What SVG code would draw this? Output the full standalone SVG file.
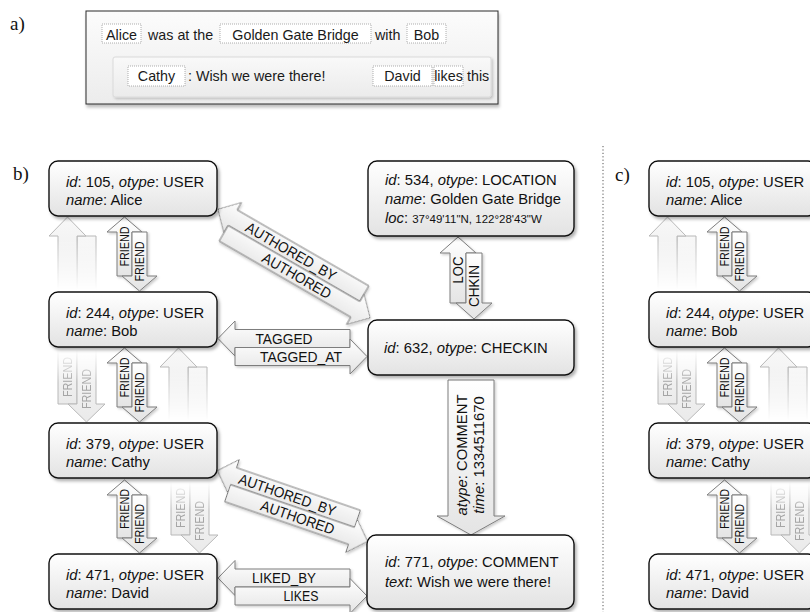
<svg xmlns="http://www.w3.org/2000/svg" width="810" height="612" viewBox="0 0 810 612">
<defs>
<style>
.serif{font-family:'Liberation Serif','Times New Roman',serif;font-size:19px;fill:#111}
.nb{fill:url(#gNode);stroke:#111;stroke-width:1.4;filter:url(#shN)}
.nt{font-family:'Liberation Sans',Arial,sans-serif;font-size:14.8px;fill:#111}
.i{font-style:italic}
.sm{font-size:11.5px}
.ar{fill:url(#gArr);stroke:#7d7d7d;stroke-width:1}
.sh{filter:url(#shA)}
.el{font-family:'Liberation Sans',Arial,sans-serif;font-size:14.8px;fill:#111}
.elm{font-family:'Liberation Sans',Arial,sans-serif;font-size:14.8px;fill:#111;text-anchor:middle}
.fr{font-family:'Liberation Sans',Arial,sans-serif;font-size:13px;fill:#111}
.fa{fill:url(#gFade);stroke:#b8b8b8;stroke-width:1}
.ft{font-family:'Liberation Sans',Arial,sans-serif;font-size:13px;fill:#a5a5a5}
.at{font-family:'Liberation Sans',Arial,sans-serif;font-size:14.3px;fill:#1a1a1a}
.atm{font-family:'Liberation Sans',Arial,sans-serif;font-size:14.3px;fill:#1a1a1a;text-anchor:middle}
.wb{fill:#fff;stroke:#9a9a9a;stroke-width:0.8;stroke-dasharray:1 1}
</style>
<linearGradient id="gNode" x1="0" y1="0" x2="0" y2="1"><stop offset="0" stop-color="#ffffff"/><stop offset="1" stop-color="#e3e3e3"/></linearGradient>
<linearGradient id="gArr" x1="0" y1="0" x2="0" y2="1"><stop offset="0" stop-color="#ffffff"/><stop offset="1" stop-color="#e4e4e4"/></linearGradient>
<linearGradient id="gFade" x1="0" y1="0" x2="0" y2="1"><stop offset="0" stop-color="#f8f8f8"/><stop offset="1" stop-color="#eaeaea"/></linearGradient>
<linearGradient id="gOuter" x1="0" y1="0" x2="0" y2="1"><stop offset="0" stop-color="#fcfcfc"/><stop offset="1" stop-color="#ececec"/></linearGradient>
<linearGradient id="gInner" x1="0" y1="0" x2="0" y2="1"><stop offset="0" stop-color="#f9f9f9"/><stop offset="1" stop-color="#ebebeb"/></linearGradient>
<filter id="shN" x="-10%" y="-15%" width="125%" height="140%"><feDropShadow dx="2" dy="2.5" stdDeviation="1.6" flood-color="#000" flood-opacity="0.3"/></filter>
<filter id="shA" x="-15%" y="-15%" width="135%" height="135%"><feDropShadow dx="1.5" dy="1.5" stdDeviation="1" flood-color="#000" flood-opacity="0.2"/></filter>
<filter id="shO" x="-5%" y="-10%" width="110%" height="130%"><feDropShadow dx="1" dy="3" stdDeviation="1.5" flood-color="#000" flood-opacity="0.25"/></filter>
<linearGradient id="gm1" gradientUnits="userSpaceOnUse" x1="0" y1="240" x2="0" y2="290"><stop offset="0" stop-color="#fff"/><stop offset="1" stop-color="#000"/></linearGradient>
<linearGradient id="gm3" gradientUnits="userSpaceOnUse" x1="0" y1="371" x2="0" y2="421"><stop offset="0" stop-color="#fff"/><stop offset="1" stop-color="#000"/></linearGradient>
<linearGradient id="gm2" gradientUnits="userSpaceOnUse" x1="0" y1="350" x2="0" y2="382"><stop offset="0" stop-color="#000"/><stop offset="1" stop-color="#fff"/></linearGradient>
<linearGradient id="gm4" gradientUnits="userSpaceOnUse" x1="0" y1="482" x2="0" y2="510"><stop offset="0" stop-color="#000"/><stop offset="1" stop-color="#fff"/></linearGradient>
<mask id="mF1" maskUnits="userSpaceOnUse" x="-1000" y="0" width="3000" height="612"><rect x="-1000" y="0" width="3000" height="612" fill="url(#gm1)"/></mask>
<mask id="mF3" maskUnits="userSpaceOnUse" x="-1000" y="0" width="3000" height="612"><rect x="-1000" y="0" width="3000" height="612" fill="url(#gm3)"/></mask>
<mask id="mF2" maskUnits="userSpaceOnUse" x="-1000" y="0" width="3000" height="612"><rect x="-1000" y="0" width="3000" height="612" fill="url(#gm2)"/></mask>
<mask id="mF4" maskUnits="userSpaceOnUse" x="-1000" y="0" width="3000" height="612"><rect x="-1000" y="0" width="3000" height="612" fill="url(#gm4)"/></mask>
</defs>
<rect x="0" y="0" width="810" height="612" fill="#ffffff"/>

<!-- panel a -->
<text class="serif" x="10" y="30">a)</text>
<g id="panel-a">
<rect x="86" y="11" width="412" height="93" fill="url(#gOuter)" stroke="#2b2b2b" stroke-width="1" filter="url(#shO)"/>
<rect x="113" y="57" width="378" height="40" rx="2" fill="url(#gInner)" stroke="#dadada" stroke-width="1" filter="url(#shA)"/>
<rect class="wb" x="102" y="24" width="39" height="19"/>
<rect class="wb" x="220" y="24" width="151" height="19"/>
<rect class="wb" x="407" y="24" width="39" height="19"/>
<rect class="wb" x="128" y="66" width="57" height="20"/>
<rect class="wb" x="373" y="66" width="59" height="20"/>
<rect class="wb" x="434" y="66" width="29" height="20"/>
<text class="atm" x="121.5" y="39.8">Alice</text>
<text class="at" x="148" y="39.8">was at the</text>
<text class="atm" x="295.5" y="39.8">Golden Gate Bridge</text>
<text class="at" x="375" y="39.8">with</text>
<text class="atm" x="426.5" y="39.8">Bob</text>
<text class="atm" x="156.5" y="81.3">Cathy</text>
<text class="at" x="188" y="81.3">: Wish we were there!</text>
<text class="atm" x="402.5" y="81.3">David</text>
<text class="atm" x="448.5" y="81.3">likes</text>
<text class="at" x="467" y="81.3">this</text>
</g>

<!-- panel b -->
<text class="serif" x="13" y="180">b)</text>
<g id="edges-b">
<g id="fade-ab-left" mask="url(#mF1)">
<polygon class="fa" points="77,236 96,236 96,292 77,292"/>
<polygon class="fa" points="67.5,217 86,236 77,236 77,292 58,292 58,236 49,236"/>
</g>
<g id="fade-bc-right" mask="url(#mF3)">
<polygon class="fa" points="188,367 207,367 207,423 188,423"/>
<polygon class="fa" points="178.5,348 197,367 188,367 188,423 169,423 169,367 160,367"/>
</g>
<g id="fade-bc-left" mask="url(#mF2)">
<polygon class="fa" points="58,347 77,347 77,404 58,404"/>
<polygon class="fa" points="77,347 96,347 96,404 105,404 86.5,422 68,404 77,404"/>
<text class="ft" transform="translate(72.2 377) rotate(-90)" x="-20" y="0" textLength="40" lengthAdjust="spacingAndGlyphs">FRIEND</text>
<text class="ft" transform="translate(91.2 389) rotate(-90)" x="-20" y="0" textLength="40" lengthAdjust="spacingAndGlyphs">FRIEND</text>
</g>
<g id="fade-cd-right" mask="url(#mF4)">
<polygon class="fa" points="171,480 190,480 190,535 171,535"/>
<polygon class="fa" points="190,480 209,480 209,535 218,535 199.5,553 181,535 190,535"/>
<text class="ft" transform="translate(185.2 508) rotate(-90)" x="-20" y="0" textLength="40" lengthAdjust="spacingAndGlyphs">FRIEND</text>
<text class="ft" transform="translate(204.2 521) rotate(-90)" x="-20" y="0" textLength="40" lengthAdjust="spacingAndGlyphs">FRIEND</text>
</g>

<g id="e-alice-bob">
<g class="sh">
<polygon class="ar" points="124.5,217 142,232 132,232 132,276 117,276 117,232 107,232"/>
<polygon class="ar" points="132,232 147,232 147,276 157,276 139.5,291 122,276 132,276"/>
</g>
<text class="fr" transform="translate(129.2 246.5) rotate(-90)" x="-20" y="0" textLength="40" lengthAdjust="spacingAndGlyphs">FRIEND</text>
<text class="fr" transform="translate(144.2 261.5) rotate(-90)" x="-20" y="0" textLength="40" lengthAdjust="spacingAndGlyphs">FRIEND</text>
</g>
<g id="e-bob-cathy">
<g class="sh">
<polygon class="ar" points="124.5,348 142,363 132,363 132,407 117,407 117,363 107,363"/>
<polygon class="ar" points="132,363 147,363 147,407 157,407 139.5,422 122,407 132,407"/>
</g>
<text class="fr" transform="translate(129.2 377.5) rotate(-90)" x="-20" y="0" textLength="40" lengthAdjust="spacingAndGlyphs">FRIEND</text>
<text class="fr" transform="translate(144.2 392.5) rotate(-90)" x="-20" y="0" textLength="40" lengthAdjust="spacingAndGlyphs">FRIEND</text>
</g>
<g id="e-cathy-david">
<g class="sh">
<polygon class="ar" points="124.5,480 142,495 132,495 132,538 117,538 117,495 107,495"/>
<polygon class="ar" points="132,495 147,495 147,538 157,538 139.5,553 122,538 132,538"/>
</g>
<text class="fr" transform="translate(129.2 509) rotate(-90)" x="-20" y="0" textLength="40" lengthAdjust="spacingAndGlyphs">FRIEND</text>
<text class="fr" transform="translate(144.2 524) rotate(-90)" x="-20" y="0" textLength="40" lengthAdjust="spacingAndGlyphs">FRIEND</text>
</g>

<g id="e-alice-checkin" transform="translate(294 263.5) rotate(30)">
<g class="sh">
<polygon class="ar" points="-93,-9 -76,-26.5 -76,-18 76,-18 76,0 -76,0 -76,8.5"/>
<polygon class="ar" points="93,9 76,26.5 76,18 -76,18 -76,0 76,0 76,-8.5"/>
</g>
<text class="el" x="-59.5" y="-3.7" textLength="102" lengthAdjust="spacingAndGlyphs">AUTHORED_BY</text>
<text class="el" x="-30" y="14.3" textLength="77" lengthAdjust="spacingAndGlyphs">AUTHORED</text>
</g>

<g id="e-bob-checkin">
<g class="sh">
<polygon class="ar" points="218,338.5 235,321 235,329.5 350,329.5 350,347.5 235,347.5 235,356"/>
<polygon class="ar" points="367,356.5 350,374 350,365.5 235,365.5 235,347.5 350,347.5 350,339"/>
</g>
<text class="el" x="255.5" y="343.8" textLength="57" lengthAdjust="spacingAndGlyphs">TAGGED</text>
<text class="el" x="260" y="361.8" textLength="82" lengthAdjust="spacingAndGlyphs">TAGGED_AT</text>
</g>

<g id="e-cathy-comment" transform="translate(292.5 506) rotate(19)">
<g class="sh">
<polygon class="ar" points="-82.5,-9 -65.5,-26.5 -65.5,-18 65.5,-18 65.5,0 -65.5,0 -65.5,8.5"/>
<polygon class="ar" points="82.5,9 65.5,26.5 65.5,18 -65.5,18 -65.5,0 65.5,0 65.5,-8.5"/>
</g>
<text class="el" x="-59.5" y="-3.7" textLength="102" lengthAdjust="spacingAndGlyphs">AUTHORED_BY</text>
<text class="el" x="-30" y="14.3" textLength="77" lengthAdjust="spacingAndGlyphs">AUTHORED</text>
</g>

<g id="e-david-comment">
<g class="sh">
<polygon class="ar" points="218,578 235,560.5 235,569 350,569 350,587 235,587 235,595.5"/>
<polygon class="ar" points="367,596 350,613.5 350,605 235,605 235,587 350,587 350,578.5"/>
</g>
<text class="el" x="252" y="583.3" textLength="64" lengthAdjust="spacingAndGlyphs">LIKED_BY</text>
<text class="el" x="283.5" y="601.3" textLength="35" lengthAdjust="spacingAndGlyphs">LIKES</text>
</g>

<g id="e-location-checkin">
<g class="sh">
<polygon class="ar" points="458,237 476,253 466,253 466,303 450,303 450,253 440,253"/>
<polygon class="ar" points="466,253 482,253 482,303 492,303 474,319 456,303 466,303"/>
</g>
<text class="el" transform="translate(463.3 270) rotate(-90)" x="-13.5" y="0" textLength="27" lengthAdjust="spacingAndGlyphs">LOC</text>
<text class="el" transform="translate(479.3 286) rotate(-90)" x="-21" y="0" textLength="42" lengthAdjust="spacingAndGlyphs">CHKIN</text>
</g>

<g id="e-checkin-comment">
<g class="sh">
<polygon class="ar" points="448,380 494,380 494,516 505,516 471,535 437,516 448,516"/>
</g>
<text class="elm" transform="translate(467 455) rotate(-90)"><tspan class="i">atype</tspan>: COMMENT</text>
<text class="elm" transform="translate(484 455) rotate(-90)"><tspan class="i">time</tspan>: 1334511670</text>
</g>
</g>

<g id="b-alice"><rect class="nb" x="49" y="161" width="168" height="55" rx="9"/>
<text class="nt" x="66" y="186.5"><tspan class="i">id</tspan>: 105, <tspan class="i">otype</tspan>: USER</text>
<text class="nt" x="66" y="204.5"><tspan class="i">name</tspan>: Alice</text></g>
<g id="b-bob"><rect class="nb" x="49" y="292" width="168" height="55" rx="9"/>
<text class="nt" x="66" y="317.5"><tspan class="i">id</tspan>: 244, <tspan class="i">otype</tspan>: USER</text>
<text class="nt" x="66" y="335.5"><tspan class="i">name</tspan>: Bob</text></g>
<g id="b-cathy"><rect class="nb" x="49" y="423" width="168" height="55" rx="9"/>
<text class="nt" x="66" y="448.5"><tspan class="i">id</tspan>: 379, <tspan class="i">otype</tspan>: USER</text>
<text class="nt" x="66" y="466.5"><tspan class="i">name</tspan>: Cathy</text></g>
<g id="b-david"><rect class="nb" x="49" y="554" width="168" height="55" rx="9"/>
<text class="nt" x="66" y="579.5"><tspan class="i">id</tspan>: 471, <tspan class="i">otype</tspan>: USER</text>
<text class="nt" x="66" y="597.5"><tspan class="i">name</tspan>: David</text></g>
<g id="b-location"><rect class="nb" x="368" y="161" width="206" height="75" rx="9"/>
<text class="nt" x="385" y="185"><tspan class="i">id</tspan>: 534, <tspan class="i">otype</tspan>: LOCATION</text>
<text class="nt" x="385" y="204"><tspan class="i">name</tspan>: Golden Gate Bridge</text>
<text class="nt" x="385" y="222.5"><tspan class="i">loc</tspan>: <tspan class="sm">37°49'11"N, 122°28'43"W</tspan></text></g>
<g id="b-checkin"><rect class="nb" x="368" y="320" width="206" height="55" rx="9"/>
<text class="nt" x="384" y="353"><tspan class="i">id</tspan>: 632, <tspan class="i">otype</tspan>: CHECKIN</text></g>
<g id="b-comment"><rect class="nb" x="367" y="535" width="207" height="74" rx="9"/>
<text class="nt" x="385" y="567"><tspan class="i">id</tspan>: 771, <tspan class="i">otype</tspan>: COMMENT</text>
<text class="nt" x="385" y="587"><tspan class="i">text</tspan>: Wish we were there!</text></g>

<!-- separator -->
<line x1="603" y1="146" x2="603" y2="612" stroke="#555" stroke-width="1" stroke-dasharray="1.2 2.2"/>

<!-- panel c -->
<text class="serif" x="615" y="181">c)</text>
<g id="panel-c" transform="translate(600 0)">
<g id="edges-c">
<g id="c-fade-ab-left" mask="url(#mF1)">
<polygon class="fa" points="77,236 96,236 96,292 77,292"/>
<polygon class="fa" points="67.5,217 86,236 77,236 77,292 58,292 58,236 49,236"/>
</g>
<g id="c-fade-bc-right" mask="url(#mF3)">
<polygon class="fa" points="188,367 207,367 207,423 188,423"/>
<polygon class="fa" points="178.5,348 197,367 188,367 188,423 169,423 169,367 160,367"/>
</g>
<g id="c-fade-bc-left" mask="url(#mF2)">
<polygon class="fa" points="58,347 77,347 77,404 58,404"/>
<polygon class="fa" points="77,347 96,347 96,404 105,404 86.5,422 68,404 77,404"/>
<text class="ft" transform="translate(72.2 377) rotate(-90)" x="-20" y="0" textLength="40" lengthAdjust="spacingAndGlyphs">FRIEND</text>
<text class="ft" transform="translate(91.2 389) rotate(-90)" x="-20" y="0" textLength="40" lengthAdjust="spacingAndGlyphs">FRIEND</text>
</g>
<g id="c-fade-cd-right" mask="url(#mF4)">
<polygon class="fa" points="171,480 190,480 190,535 171,535"/>
<polygon class="fa" points="190,480 209,480 209,535 218,535 199.5,553 181,535 190,535"/>
<text class="ft" transform="translate(185.2 508) rotate(-90)" x="-20" y="0" textLength="40" lengthAdjust="spacingAndGlyphs">FRIEND</text>
<text class="ft" transform="translate(204.2 521) rotate(-90)" x="-20" y="0" textLength="40" lengthAdjust="spacingAndGlyphs">FRIEND</text>
</g>
<g id="c-e-alice-bob">
<g class="sh">
<polygon class="ar" points="124.5,217 142,232 132,232 132,276 117,276 117,232 107,232"/>
<polygon class="ar" points="132,232 147,232 147,276 157,276 139.5,291 122,276 132,276"/>
</g>
<text class="fr" transform="translate(129.2 246.5) rotate(-90)" x="-20" y="0" textLength="40" lengthAdjust="spacingAndGlyphs">FRIEND</text>
<text class="fr" transform="translate(144.2 261.5) rotate(-90)" x="-20" y="0" textLength="40" lengthAdjust="spacingAndGlyphs">FRIEND</text>
</g>
<g id="c-e-bob-cathy">
<g class="sh">
<polygon class="ar" points="124.5,348 142,363 132,363 132,407 117,407 117,363 107,363"/>
<polygon class="ar" points="132,363 147,363 147,407 157,407 139.5,422 122,407 132,407"/>
</g>
<text class="fr" transform="translate(129.2 377.5) rotate(-90)" x="-20" y="0" textLength="40" lengthAdjust="spacingAndGlyphs">FRIEND</text>
<text class="fr" transform="translate(144.2 392.5) rotate(-90)" x="-20" y="0" textLength="40" lengthAdjust="spacingAndGlyphs">FRIEND</text>
</g>
<g id="c-e-cathy-david">
<g class="sh">
<polygon class="ar" points="124.5,480 142,495 132,495 132,538 117,538 117,495 107,495"/>
<polygon class="ar" points="132,495 147,495 147,538 157,538 139.5,553 122,538 132,538"/>
</g>
<text class="fr" transform="translate(129.2 509) rotate(-90)" x="-20" y="0" textLength="40" lengthAdjust="spacingAndGlyphs">FRIEND</text>
<text class="fr" transform="translate(144.2 524) rotate(-90)" x="-20" y="0" textLength="40" lengthAdjust="spacingAndGlyphs">FRIEND</text>
</g>
</g>
<g id="c-alice"><rect class="nb" x="49" y="161" width="168" height="55" rx="9"/>
<text class="nt" x="66" y="186.5"><tspan class="i">id</tspan>: 105, <tspan class="i">otype</tspan>: USER</text>
<text class="nt" x="66" y="204.5"><tspan class="i">name</tspan>: Alice</text></g>
<g id="c-bob"><rect class="nb" x="49" y="292" width="168" height="55" rx="9"/>
<text class="nt" x="66" y="317.5"><tspan class="i">id</tspan>: 244, <tspan class="i">otype</tspan>: USER</text>
<text class="nt" x="66" y="335.5"><tspan class="i">name</tspan>: Bob</text></g>
<g id="c-cathy"><rect class="nb" x="49" y="423" width="168" height="55" rx="9"/>
<text class="nt" x="66" y="448.5"><tspan class="i">id</tspan>: 379, <tspan class="i">otype</tspan>: USER</text>
<text class="nt" x="66" y="466.5"><tspan class="i">name</tspan>: Cathy</text></g>
<g id="c-david"><rect class="nb" x="49" y="554" width="168" height="55" rx="9"/>
<text class="nt" x="66" y="579.5"><tspan class="i">id</tspan>: 471, <tspan class="i">otype</tspan>: USER</text>
<text class="nt" x="66" y="597.5"><tspan class="i">name</tspan>: David</text></g>
</g>
</svg>
